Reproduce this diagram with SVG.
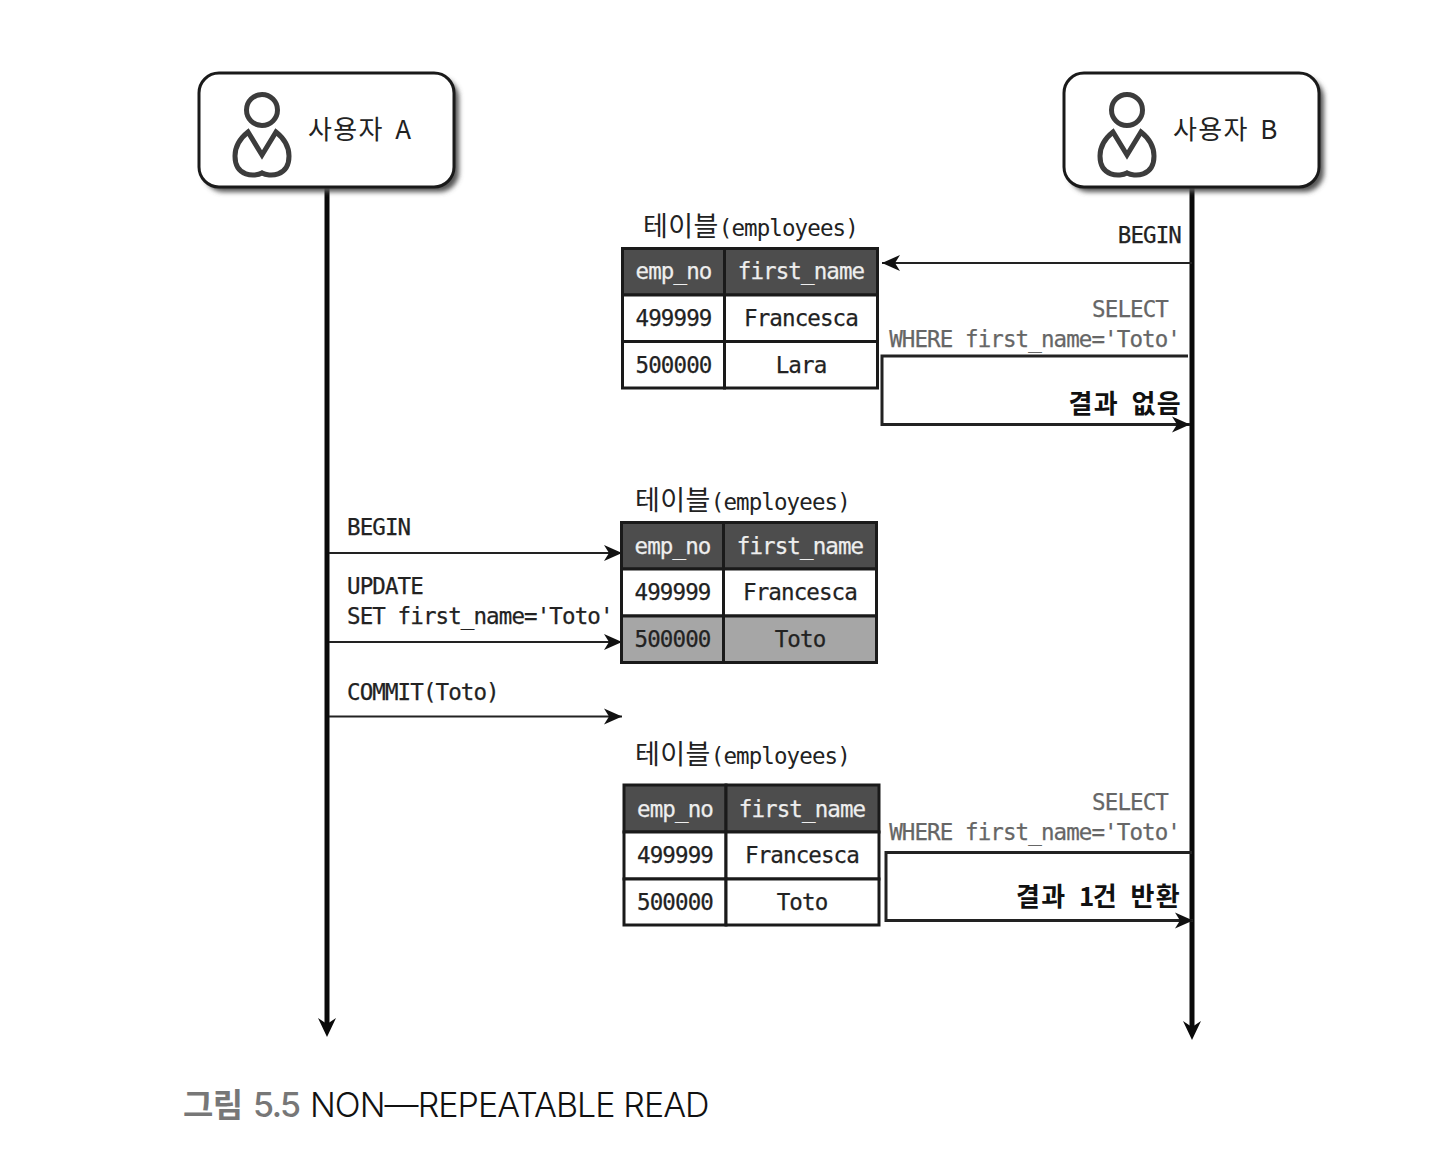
<svg xmlns="http://www.w3.org/2000/svg" width="1440" height="1174" viewBox="0 0 1440 1174">
<style>
text{font-family:"DejaVu Sans Mono","Noto Sans CJK KR",monospace;font-size:22.500px;letter-spacing:-0.900px;fill:#222;stroke:#222;stroke-width:.25}
.m{text-anchor:middle}.e{text-anchor:end}
.w{fill:#eee;stroke:#eee}.g{fill:#666;stroke:#666}
.k{font-family:"Noto Sans CJK KR",sans-serif;font-size:27px;letter-spacing:.400px;stroke:none}
.u{font-family:"Noto Sans CJK KR",sans-serif;font-size:26px;letter-spacing:1.300px;word-spacing:4.500px;stroke:none}
.b{font-family:"Noto Sans CJK KR",sans-serif;font-size:26px;font-weight:700;letter-spacing:1.300px;word-spacing:5.500px;fill:#111;stroke:none}
.t{font-family:"DejaVu Sans Mono",monospace;font-size:22.500px;letter-spacing:-0.900px}
.d{letter-spacing:-1.800px}
.cell{stroke:#1a1a1a;stroke-width:3;fill:#fff}
.head{stroke:#1a1a1a;stroke-width:3;fill:#4d4d4d}
.hl{stroke:#1a1a1a;stroke-width:3;fill:#a6a6a6}
.life{stroke:#0a0a0a;stroke-width:5;fill:none}
.thin{stroke:#222;stroke-width:2;fill:none}
.bent{stroke:#222;stroke-width:3;fill:none}
.box{fill:#fff;stroke:#1a1a1a;stroke-width:3}
.shadow{fill:#555;filter:url(#blur)}
.icon{fill:#fff;stroke:#3c3c3c;stroke-width:5}
</style>
<defs>
<filter id="blur" x="-10%" y="-20%" width="120%" height="140%"><feGaussianBlur stdDeviation="2.5"/></filter>
<marker id="a" markerUnits="userSpaceOnUse" markerWidth="20" markerHeight="20" refX="19" refY="10" orient="auto"><path d="M1 2L19 10L1 18L6 10Z" fill="#111"/></marker>
<g id="user"><circle cx="63" cy="37" r="15.500" class="icon"/><path class="icon" d="M63 100C56 104 36 104 36 83C36 70 44 63 49 59L63 82L77 59C82 63 90 70 90 83C90 104 70 104 63 100Z"/></g>
</defs>
<rect width="1440" height="1174" fill="#fff"/>

<g id="connectors">
<path class="life" d="M327 187V1024"/>
<path d="M318 1018L327 1037L336 1018L327 1024Z" fill="#0a0a0a"/>
<path class="life" d="M1192 187V1027"/>
<path d="M1183 1021L1192 1040L1201 1021L1192 1027Z" fill="#0a0a0a"/>
<path class="thin" d="M1192 263H882" marker-end="url(#a)"/>
<path class="bent" d="M1188 356H882V424.500H1190" marker-end="url(#a)"/>
<path class="thin" d="M329 553H622" marker-end="url(#a)"/>
<path class="thin" d="M329 642H622" marker-end="url(#a)"/>
<path class="thin" d="M329 716.500H622" marker-end="url(#a)"/>
<path class="bent" d="M1192 852.500H886V920.500H1193" marker-end="url(#a)"/>
</g>

<g id="user-a">
<rect class="shadow" x="204" y="78" width="255" height="114" rx="20"/>
<rect class="box" x="199" y="73" width="255" height="114" rx="20"/>
<use href="#user" x="199" y="73"/>
<text class="u" x="308" y="139">사용자 A</text>
</g>
<g id="user-b">
<rect class="shadow" x="1069" y="78" width="255" height="114" rx="20"/>
<rect class="box" x="1064" y="73" width="255" height="114" rx="20"/>
<use href="#user" x="1064" y="73"/>
<text class="u" x="1173" y="139">사용자 B</text>
</g>

<g id="table-1">
<text class="k" x="643" y="236">테이블<tspan class="t">(employees)</tspan></text>
<rect class="head" x="622.500" y="248.500" width="102" height="46.500"/><rect class="head" x="724.500" y="248.500" width="153" height="46.500"/>
<rect class="cell" x="622.500" y="295" width="102" height="46.500"/><rect class="cell" x="724.500" y="295" width="153" height="46.500"/>
<rect class="cell" x="622.500" y="341.500" width="102" height="46.500"/><rect class="cell" x="724.500" y="341.500" width="153" height="46.500"/>
<text class="m w" x="673.500" y="279">emp_no</text><text class="m w" x="801" y="279">first_name</text>
<text class="m" x="673.500" y="326">499999</text><text class="m" x="801" y="326">Francesca</text>
<text class="m" x="673.500" y="373">500000</text><text class="m" x="801" y="373">Lara</text>
</g>

<g id="table-2">
<text class="k" x="635" y="510">테이블<tspan class="t">(employees)</tspan></text>
<rect class="head" x="621.500" y="522.500" width="102" height="46.500"/><rect class="head" x="723.500" y="522.500" width="153" height="46.500"/>
<rect class="cell" x="621.500" y="569" width="102" height="47"/><rect class="cell" x="723.500" y="569" width="153" height="47"/>
<rect class="hl" x="621.500" y="616" width="102" height="46.500"/><rect class="hl" x="723.500" y="616" width="153" height="46.500"/>
<text class="m w" x="672.500" y="554">emp_no</text><text class="m w" x="800" y="554">first_name</text>
<text class="m" x="672.500" y="600">499999</text><text class="m" x="800" y="600">Francesca</text>
<text class="m" x="672.500" y="647">500000</text><text class="m" x="800" y="647">Toto</text>
</g>

<g id="table-3">
<text class="k" x="635" y="764">테이블<tspan class="t">(employees)</tspan></text>
<rect class="head" x="624" y="785" width="102" height="47"/><rect class="head" x="726" y="785" width="153" height="47"/>
<rect class="cell" x="624" y="832" width="102" height="47"/><rect class="cell" x="726" y="832" width="153" height="47"/>
<rect class="cell" x="624" y="879" width="102" height="46"/><rect class="cell" x="726" y="879" width="153" height="46"/>
<text class="m w" x="675" y="817">emp_no</text><text class="m w" x="802" y="817">first_name</text>
<text class="m" x="675" y="863">499999</text><text class="m" x="802" y="863">Francesca</text>
<text class="m" x="675" y="910">500000</text><text class="m" x="802" y="910">Toto</text>
</g>

<g id="labels">
<text class="e" x="1181" y="243">BEGIN</text>
<text class="e g" x="1168" y="317">SELECT</text>
<text class="e g" x="1180" y="347">WHERE first_name='Toto'</text>
<text class="e b" x="1182" y="413">결과 없음</text>
<text x="347" y="535">BEGIN</text>
<text x="347" y="594">UPDATE</text>
<text x="347" y="624">SET first_name='Toto'</text>
<text x="347" y="700">COMMIT(Toto)</text>
<text class="e g" x="1168" y="810">SELECT</text>
<text class="e g" x="1180" y="840">WHERE first_name='Toto'</text>
<text class="e b" x="1181" y="906">결과 <tspan class="d">1</tspan>건 반환</text>
</g>

<g id="caption">
<text x="183" y="1117" style="font-family:'Noto Sans CJK KR',sans-serif;font-size:33px;font-weight:700;fill:#777;stroke:none;letter-spacing:-0.500px">그림</text>
<text x="253" y="1117" style="font-family:Inter,sans-serif;font-size:34px;font-weight:500;fill:#777;stroke:none;letter-spacing:-1.500px">5.5</text>
<text x="310" y="1117" style="font-family:Inter,sans-serif;font-size:34px;font-weight:300;fill:#111;stroke:none;letter-spacing:-0.950px">NON—REPEATABLE READ</text>
</g>
</svg>
